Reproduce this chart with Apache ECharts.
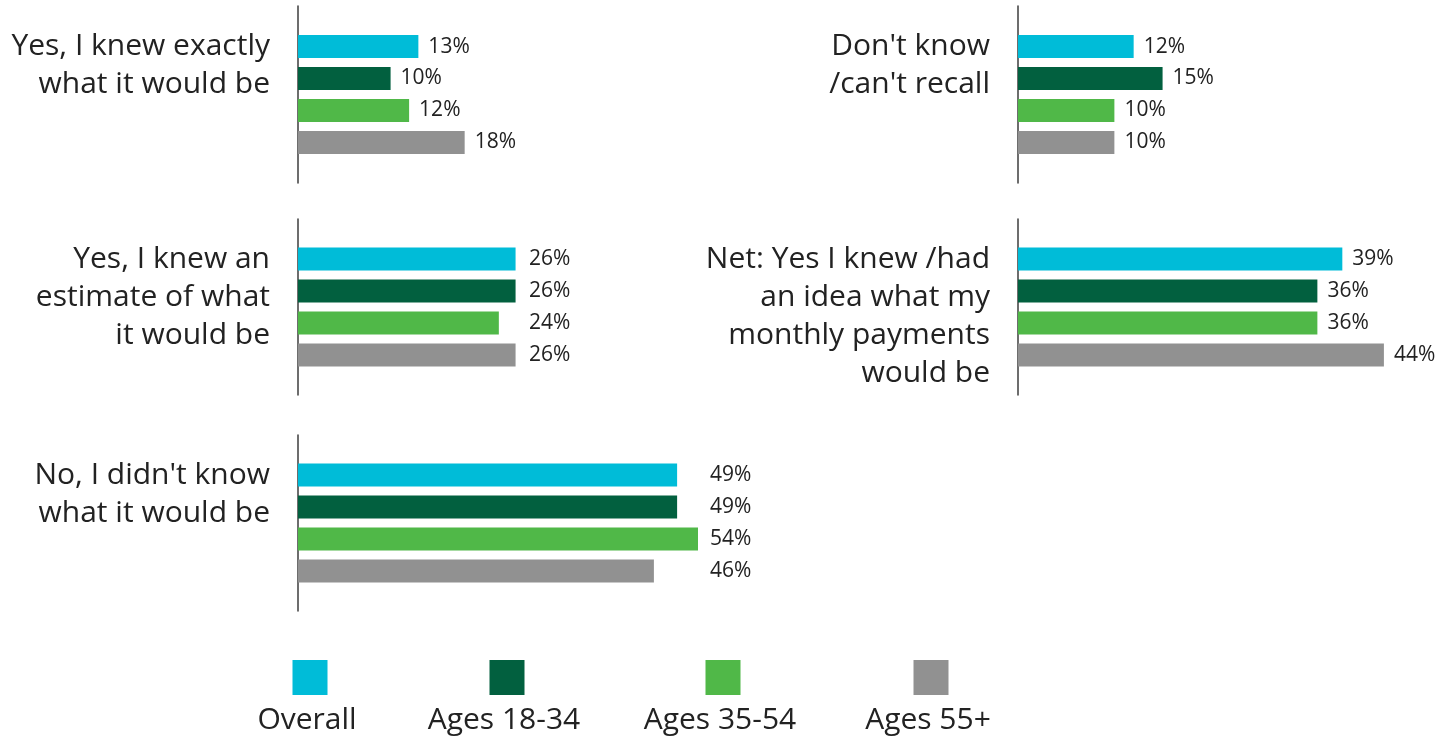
<!DOCTYPE html>
<html>
<head>
<meta charset="utf-8">
<script src="https://cdn.jsdelivr.net/npm/echarts@6/dist/echarts.min.js"></script>
<style>
  html,body{margin:0;padding:0;background:#fff;}
  #chart{width:1453px;height:738px;}
</style>
</head>
<body>
<div id="chart"></div>
<script>
// 5 个问题面板，每个面板 4 根条（按年龄组）
const questions = [
  'Yes, I knew exactly\nwhat it would be',
  "Don't know\n/can't recall",
  'Yes, I knew an\nestimate of what\nit would be',
  'Net: Yes I knew /had\nan idea what my\nmonthly payments\nwould be',
  "No, I didn't know\nwhat it would be"
];
const groups   = ['Overall', 'Ages 18-34', 'Ages 35-54', 'Ages 55+'];
const overall  = [13, 12, 26, 39, 49];
const ages1834 = [10, 15, 26, 36, 49];
const ages3554 = [12, 10, 24, 36, 54];
const ages55   = [18, 10, 26, 44, 46];

const values = [overall, ages1834, ages3554, ages55];
const COLORS = ['#00bcd8', '#02603f', '#50b848', '#919191'];
const FONT = '"Open Sans", "Noto Sans", sans-serif';
const TXT = '#222';

// 面板布局：轴线位置/高度、横轴上限（每个面板单独缩放）、数值标签位置
const PANELS = [
  {left: 298,  top: 6,   h: 177, max: 43.2, lab: null},
  {left: 1018, top: 6,   h: 177, max: 41.5, lab: null},
  {left: 298,  top: 219, h: 176, max: 47.8, lab: 231},
  {left: 1018, top: 219, h: 176, max: 48.1, lab: null},
  {left: 298,  top: 435, h: 176, max: 51.7, lab: 412},
];
const GRID_W = 400;

const grid = [], xAxis = [], yAxis = [], series = [], graphic = [];
PANELS.forEach((p, pi) => {
  grid.push({left: p.left, top: p.top, width: GRID_W, height: p.h, containLabel: false});
  xAxis.push({type: 'value', gridIndex: pi, min: 0, max: p.max, show: false});
  yAxis.push({type: 'category', gridIndex: pi, data: [questions[pi]],
    axisLine: {show: true, lineStyle: {color: '#3c3c3c', width: 1.5}},
    axisTick: {show: false}, axisLabel: {show: false}, splitLine: {show: false}});
  groups.forEach((g, gi) => {
    series.push({
      name: g, type: 'bar', xAxisIndex: pi, yAxisIndex: pi,
      barWidth: 23, barGap: '39%',
      itemStyle: {color: COLORS[gi]},
      label: {show: true, formatter: '{c}%', color: TXT, fontFamily: FONT, fontSize: 21,
        ...(p.lab == null ? {position: 'right', distance: 10}
                          : {position: [p.lab, '50%'], align: 'left', verticalAlign: 'middle'})},
      data: [values[gi][pi]]
    });
  });
  // 问题文字：右对齐放在轴线左侧
  graphic.push({type: 'text', x: p.left - 28, y: p.top + 21,
    style: {text: questions[pi], align: 'right', verticalAlign: 'top',
      fill: TXT, font: '30px ' + FONT, lineHeight: 38}});
});

// 底部图例：色块在上，文字在下
const LEG_X = [310, 507, 723, 931];
groups.forEach((g, gi) => {
  graphic.push({type: 'rect', shape: {x: LEG_X[gi] - 17.5, y: 660, width: 35, height: 35},
    style: {fill: COLORS[gi]}});
  graphic.push({type: 'text', x: LEG_X[gi] - 3, y: 720,
    style: {text: g, align: 'center', verticalAlign: 'middle', fill: TXT, font: '30px ' + FONT}});
});

const chart = echarts.init(document.getElementById('chart'));
chart.setOption({animation: false, grid, xAxis, yAxis, series, graphic});
window.addEventListener('resize', () => chart.resize());
</script>
</body>
</html>
